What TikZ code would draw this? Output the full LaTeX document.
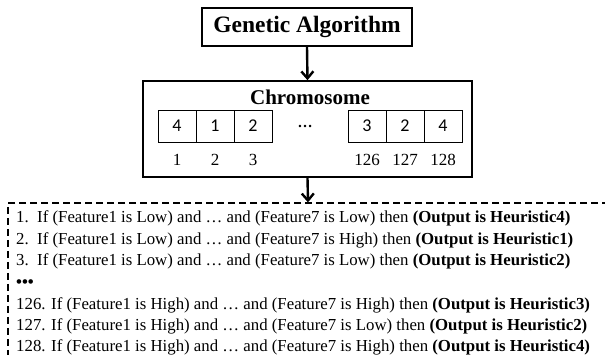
\documentclass[tikz,border=0pt]{standalone}
\usepackage{fontspec}
\setmainfont{Liberation Serif}
\newfontfamily\cellfont{Carlito}
\usetikzlibrary{arrows.meta}
\begin{document}
\begin{tikzpicture}[x=1pt,y=-1pt,
  box/.style={draw,line width=1.6pt,inner sep=0pt},
  cell/.style={draw,line width=0.9pt,minimum width=38pt,minimum height=32pt,inner sep=0pt,
    font=\cellfont\fontsize{18}{18}\selectfont},
  idx/.style={inner sep=0pt,font=\fontsize{17}{17}\selectfont},
  flow/.style={line width=2.4pt,-{Straight Barb[length=7pt,width=12pt,line width=2.4pt]}},
  rulebox/.style={draw,line width=1.3pt,dash pattern=on 7pt off 4pt,inner sep=0pt},
  rule/.style={anchor=base west,inner sep=0pt,font=\fontsize{16.8}{16.8}\selectfont}]
\useasboundingbox (0,0) rectangle (605,355);
\clip (0,0) rectangle (605,355);

% top block
\node[box,minimum width=210pt,minimum height=38pt,
  font=\bfseries\fontsize{23.5}{23.5}\selectfont] (ga) at (307,27) {Genetic Algorithm};

% chromosome frame with its genes
\node[box,minimum width=329pt,minimum height=96pt] (chrom) at (307.5,129) {};
\node[inner sep=0pt,font=\bfseries\fontsize{21}{21}\selectfont] (title) at (310,97) {Chromosome};

\node[cell] (g1) at (177,126) {4};
\node[cell] (g2) at (215,126) {1};
\node[cell] (g3) at (253,126) {2};
\node[inner sep=0pt,font=\bfseries\fontsize{15}{15}\selectfont] (gdots) at (305,126) {…};
\node[cell] (g126) at (367,126) {3};
\node[cell] (g127) at (405,126) {2};
\node[cell] (g128) at (443,126) {4};

\node[idx] (i1) at (g1 |- 0,160) {1};
\node[idx] (i2) at (g2 |- 0,160) {2};
\node[idx] (i3) at (g3 |- 0,160) {3};
\node[idx] (i126) at (g126 |- 0,160) {126};
\node[idx] (i127) at (g127 |- 0,160) {127};
\node[idx] (i128) at (g128 |- 0,160) {128};

% rule base (extends past the page on the right and bottom)
\node[rulebox,minimum width=600pt,minimum height=160pt] (rules) at (308,283) {};

\draw[flow] (ga.south) -- (chrom.north);
\draw[flow] (chrom.south) -- (rules.north);

\node[rule] (r1) at (16,223) {1.\enspace If (Feature1 is Low) and … and (Feature7 is Low) then \textbf{(Output is Heuristic4)}};
\node[rule] (r2) at (16,244.5) {2.\enspace If (Feature1 is Low) and … and (Feature7 is High) then \textbf{(Output is Heuristic1)}};
\node[rule] (r3) at (16,266) {3.\enspace If (Feature1 is Low) and … and (Feature7 is Low) then \textbf{(Output is Heuristic2)}};
\node[rule] (rdots) at (16,287.5) {\textbf{•••}};
\node[rule] (r126) at (16,309) {126. If (Feature1 is High) and … and (Feature7 is High) then \textbf{(Output is Heuristic3)}};
\node[rule] (r127) at (16,330.5) {127. If (Feature1 is High) and … and (Feature7 is Low) then \textbf{(Output is Heuristic2)}};
\node[rule] (r128) at (16,352) {128. If (Feature1 is High) and … and (Feature7 is High) then \textbf{(Output is Heuristic4)}};
\end{tikzpicture}
\end{document}
